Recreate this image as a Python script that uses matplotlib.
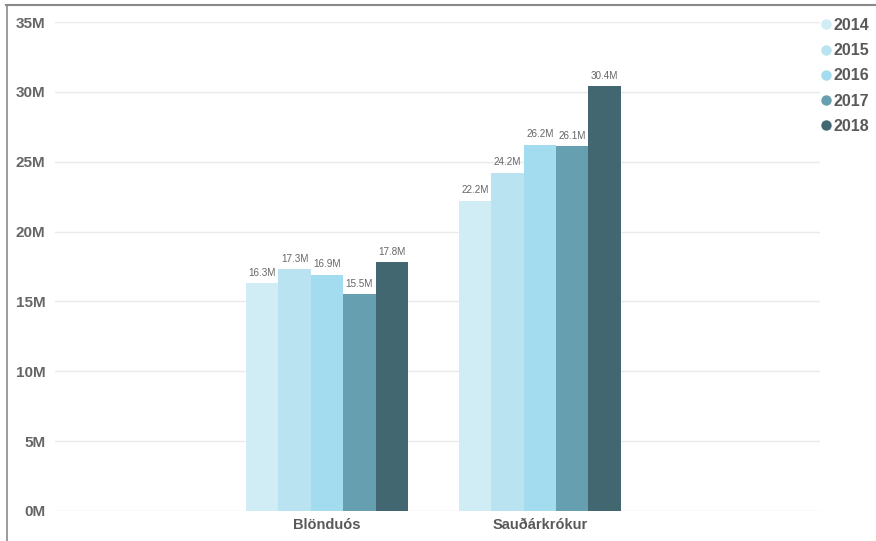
import matplotlib.pyplot as plt
import matplotlib.lines as mlines
import numpy as np

# Values in millions
towns = ['Blönduós', 'Sauðárkrókur']
years = ['2014', '2015', '2016', '2017', '2018']
v2014 = [16.3, 22.2]
v2015 = [17.3, 24.2]
v2016 = [16.9, 26.2]
v2017 = [15.5, 26.1]
v2018 = [17.8, 30.4]
series = [v2014, v2015, v2016, v2017, v2018]
colors = ['#D0ECF5', '#B9E3F1', '#A3DCEE', '#659FB0', '#436771']

plt.rcParams['font.family'] = ['Liberation Sans', 'DejaVu Sans']

fig = plt.figure(figsize=(8.76, 5.41), dpi=100)
ax = fig.add_axes([55 / 876, 1 - 511 / 541, (820 - 55) / 876, (511 - 22) / 541])

x = np.arange(len(towns))
group_w = 0.76
bw = group_w / len(years)

for i, (yr, vals, c) in enumerate(zip(years, series, colors)):
    pos = x - group_w / 2 + bw * (i + 0.5)
    ax.bar(pos, vals, width=bw, color=c, zorder=3, linewidth=0)
    for px, v in zip(pos, vals):
        ax.text(px, v + 0.4, f'{v:.1f}M', ha='center', va='bottom',
                fontsize=7.1, color='#666666')

ax.set_xlim(-1.277, 2.315)
ax.set_ylim(0, 35)
ax.set_yticks(range(0, 36, 5))
ax.set_yticklabels([f'{t}M' for t in range(0, 36, 5)])
ax.set_xticks(x)
ax.set_xticklabels(towns)

ax.grid(axis='y', color='#EAEAEA', linewidth=1, zorder=0)
for s in ax.spines.values():
    s.set_visible(False)
ax.tick_params(axis='both', length=0)
ax.tick_params(axis='y', pad=7, labelsize=11, labelcolor='#666666')
ax.tick_params(axis='x', pad=5, labelsize=10.5, labelcolor='#595959')
for lbl in ax.get_yticklabels() + ax.get_xticklabels():
    lbl.set_fontweight('bold')

# legend on the right
handles = [mlines.Line2D([], [], marker='o', linestyle='', markersize=7.5,
                         color=c, markeredgewidth=0) for c in colors]
leg = fig.legend(handles, years, loc='upper left',
                 bbox_to_anchor=(821 / 876, 1 - 18 / 541), frameon=False,
                 handlelength=0.6, handletextpad=0.2, labelspacing=0.64,
                 borderpad=0, borderaxespad=0,
                 prop={'weight': 'bold', 'size': 11.5})
for t in leg.get_texts():
    t.set_color('#595959')

# border lines at top and left of the picture
fig.add_artist(mlines.Line2D([6 / 876, 1], [1 - 4.5 / 541] * 2,
                             color='#8A8A8A', linewidth=1.5))
fig.add_artist(mlines.Line2D([7 / 876] * 2, [0, 1 - 4.5 / 541],
                             color='#8A8A8A', linewidth=1.2))

plt.savefig('out.png', dpi=100, facecolor='white')
